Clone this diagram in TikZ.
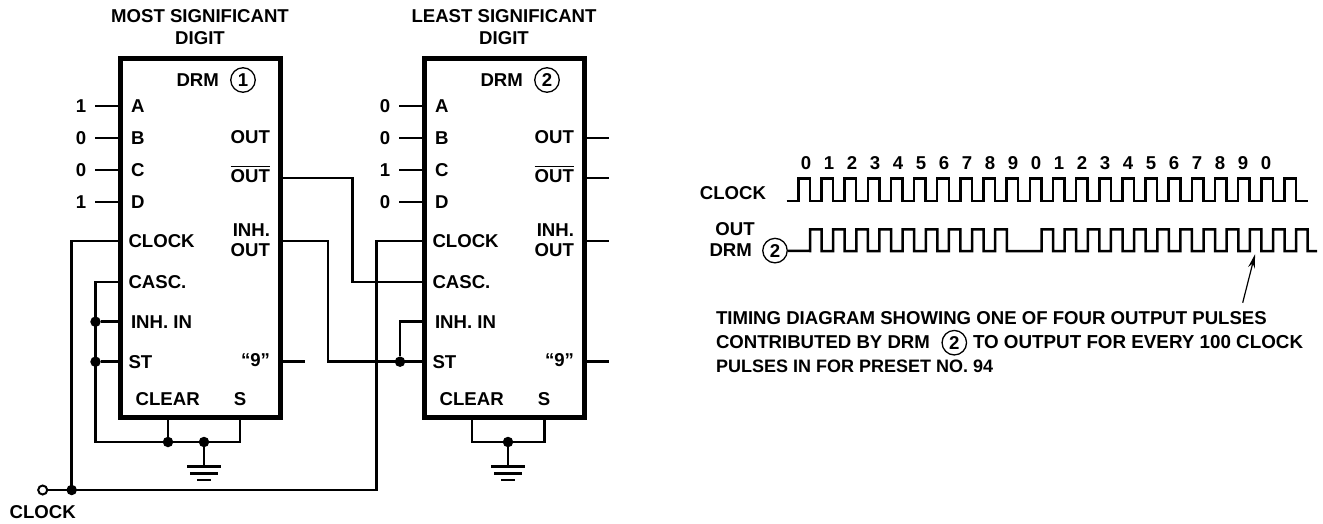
\documentclass[tikz,border=0pt]{standalone}
\usepackage{fontspec}
\setmainfont{Liberation Sans}
\usetikzlibrary{arrows.meta}
\tikzset{
  x=1pt,y=-1pt,
  wire/.style={line width=2.5pt,line join=miter},
  chip/.style={draw,line width=5pt,minimum width=160pt,minimum height=359pt,inner sep=0pt,outer sep=0pt},
  lab/.style={inner sep=0pt,outer sep=0pt,font=\fontsize{18.6}{20}\selectfont\bfseries},
  title/.style={lab,align=center},
  dot/.style={circle,fill=black,inner sep=0pt,minimum size=10.5pt},
  hollow/.style={circle,draw,fill=white,line width=2pt,inner sep=0pt,minimum size=9pt},
  ring/.style={circle,draw,line width=1.3pt,inner sep=0pt,minimum size=24.5pt,font=\fontsize{18.6}{20}\selectfont\bfseries},
}
\newcommand{\drmchip}[8]{%
\begin{scope}[xshift=#2pt,name prefix=#1-]
  \node[chip] (box) at (200.5,238) {};
  \node[title] (head) at (200,27) {#3\\[2pt]DIGIT};
  \node[lab] (drm) at (197.7,80) {DRM};
  \node[ring] (num) at (243,80) {#8};
  \foreach \pinname/\bitval/\ypin/\tag in {A/#4/106/A,B/#5/138/B,C/#6/170/C,D/#7/202/D}{
    \node[lab,anchor=west] (\tag) at (131,\ypin) {\pinname};
    \node[lab] (bit\tag) at (81,\ypin) {\bitval};
    \coordinate (stub\tag) at (95,\ypin);
    \draw[wire] (stub\tag) -- (stub\tag -| box.west);
  }
  \node[lab,anchor=west] (clk) at (128.5,241.5) {CLOCK};
  \node[lab,anchor=west] (casc) at (128.5,282) {CASC.};
  \node[lab,anchor=west] (inh) at (131,321.7) {INH. IN};
  \node[lab,anchor=west] (st) at (128.5,361.7) {ST};
  \node[lab,anchor=east] (out) at (270,137) {OUT};
  \node[lab,anchor=east] (nout) at (270,176.5) {OUT};
  \draw[line width=1.2pt] ([yshift=3.2pt]nout.north west) -- ([yshift=3.2pt]nout.north east);
  \node[lab,anchor=east] (inhh) at (270,230) {INH.};
  \node[lab,anchor=east] (inho) at (270,250) {OUT};
  \node[lab,anchor=east] (nine) at (270,360) {“9”};
  \node[lab] (clear) at (167.7,399) {CLEAR};
  \node[lab] (sset) at (240,399) {S};
\end{scope}}
\newcommand{\gnd}[1]{%
  \draw[wire] (#1) -- ++(0,24.7) coordinate (#1g);
  \draw[wire] ([xshift=-17pt]#1g) -- ([xshift=17pt]#1g);
  \draw[wire] ([xshift=-14pt,yshift=-7pt]#1g) -- ([xshift=14pt,yshift=-7pt]#1g);
  \draw[wire] ([xshift=-7pt,yshift=-13.5pt]#1g) -- ([xshift=7pt,yshift=-13.5pt]#1g);}
\begin{document}
\begin{tikzpicture}
\useasboundingbox (0,0) rectangle (1323,523);
\drmchip{a}{0}{MOST SIGNIFICANT}{1}{0}{0}{1}{1}
\drmchip{b}{304}{LEAST SIGNIFICANT}{0}{0}{1}{0}{2}
% chip 1 wiring
\coordinate (clkin) at (71.7,490);
\coordinate (clkt) at (376.7,490);
\node[hollow] (clksrc) at (42.7,490) {};
\node[lab] (clklab) at (42.7,511.7) {CLOCK};
\draw[wire] (a-box.west |- 0,241) -| (clkin);
\draw[wire] (clksrc) -- (clkt) |- (b-box.west |- 0,241);
\node[dot] (clkdot) at (clkin) {};
\coordinate (aup) at (95.5,282);
\coordinate (alow) at (95.5,442);
\coordinate (aclr) at (168,442);
\coordinate (agnd) at (204,442);
\coordinate (as) at (240,442);
\draw[wire] (a-box.west |- aup) -- (aup) -- (alow) -- (as) -- (as |- a-box.south);
\draw[wire] (aclr) -- (aclr |- a-box.south);
\node[dot] (ad1) at (95.5,321.7) {};
\node[dot] (ad2) at (95.5,361.7) {};
\draw[wire] (ad1) -- (ad1 -| a-box.west);
\draw[wire] (ad2) -- (ad2 -| a-box.west);
\node[dot] (ad3) at (aclr) {};
\node[dot] (ad4) at (agnd) {};
\gnd{agnd}
\coordinate (a9) at (305,361.7);
\draw[wire] (a-box.east |- a9) -- (a9);
% between chips
\draw[wire] (a-box.east |- 0,178) -- (352.3,178) |- (b-box.west |- 0,282);
\draw[wire] (a-box.east |- 0,241) -- (328,241) |- (b-box.west |- 0,361.7);
\node[dot] (bd1) at (400,361.7) {};
\draw[wire] (bd1) |- (b-box.west |- 0,321.7);
% chip 2 outputs
\foreach \yo/\nm in {138/p,178/q,241/r,361.7/s}{
  \coordinate (bo\nm) at (609,\yo);
  \draw[wire] (b-box.east |- bo\nm) -- (bo\nm);
}
\coordinate (bclr) at (472,442);
\coordinate (bs) at (544.3,442);
\coordinate (bgnd) at (508,442);
\draw[wire] (bclr |- b-box.south) -- (bclr) -- (bs) -- (bs |- b-box.south);
\node[dot] (bd2) at (bgnd) {};
\gnd{bgnd}
% timing diagram
\foreach \d [count=\i from 0] in {0,1,2,3,4,5,6,7,8,9,0,1,2,3,4,5,6,7,8,9,0}{
  \node[lab] (tick\i) at ({806+23*\i},163) {\d};
}
\node[lab] (tclk) at (733,192.7) {CLOCK};
\node[lab] (tout) at (735,229) {OUT};
\node[lab] (tdrm) at (730.7,250) {DRM};
\node[ring] (tnum) at (775,250.6) {2};
\coordinate (ck0) at (786.7,201);
\draw[wire] (ck0) -- ++(11.6,0) \foreach \k in {0,...,21}{ -- ++(0,-22.3) -- ++(11.575,0) -- ++(0,22.3) -- ++(11.575,0) };
\draw[wire] (tnum) -- (810,251) \foreach \k in {0,...,8}{ -- ++(0,-21.7) -- ++(11.575,0) -- ++(0,21.7) -- ++(11.575,0) } -- ++(23.15,0) \foreach \k in {10,...,20}{ -- ++(0,-21.7) -- ++(11.575,0) -- ++(0,21.7) -- ++(11.575,0) } -- ++(0,-21.7) -- ++(11.575,0) -- ++(0,21.7) -- ++(9.5,0);
\coordinate (arrowtail) at (1242.7,302.7);
\coordinate (arrowtip) at (1255,254.3);
\draw[line width=1.2pt,-{Stealth[length=14pt,width=7pt]}] (arrowtail) -- (arrowtip);
\node[lab,anchor=west] (cap1) at (716,318.3) {TIMING DIAGRAM SHOWING ONE OF FOUR OUTPUT PULSES};
\node[lab,anchor=west] (cap2a) at (716,342.5) {CONTRIBUTED BY DRM};
\node[ring] (capn) at (954.3,342.7) {2};
\node[lab,anchor=west,font=\fontsize{18.8}{20}\selectfont\bfseries] (cap2b) at (973,342.5) {TO OUTPUT FOR EVERY 100 CLOCK};
\node[lab,anchor=west,font=\fontsize{18}{20}\selectfont\bfseries] (cap3) at (716,366.7) {PULSES IN FOR PRESET NO. 94};
\end{tikzpicture}
\end{document}
